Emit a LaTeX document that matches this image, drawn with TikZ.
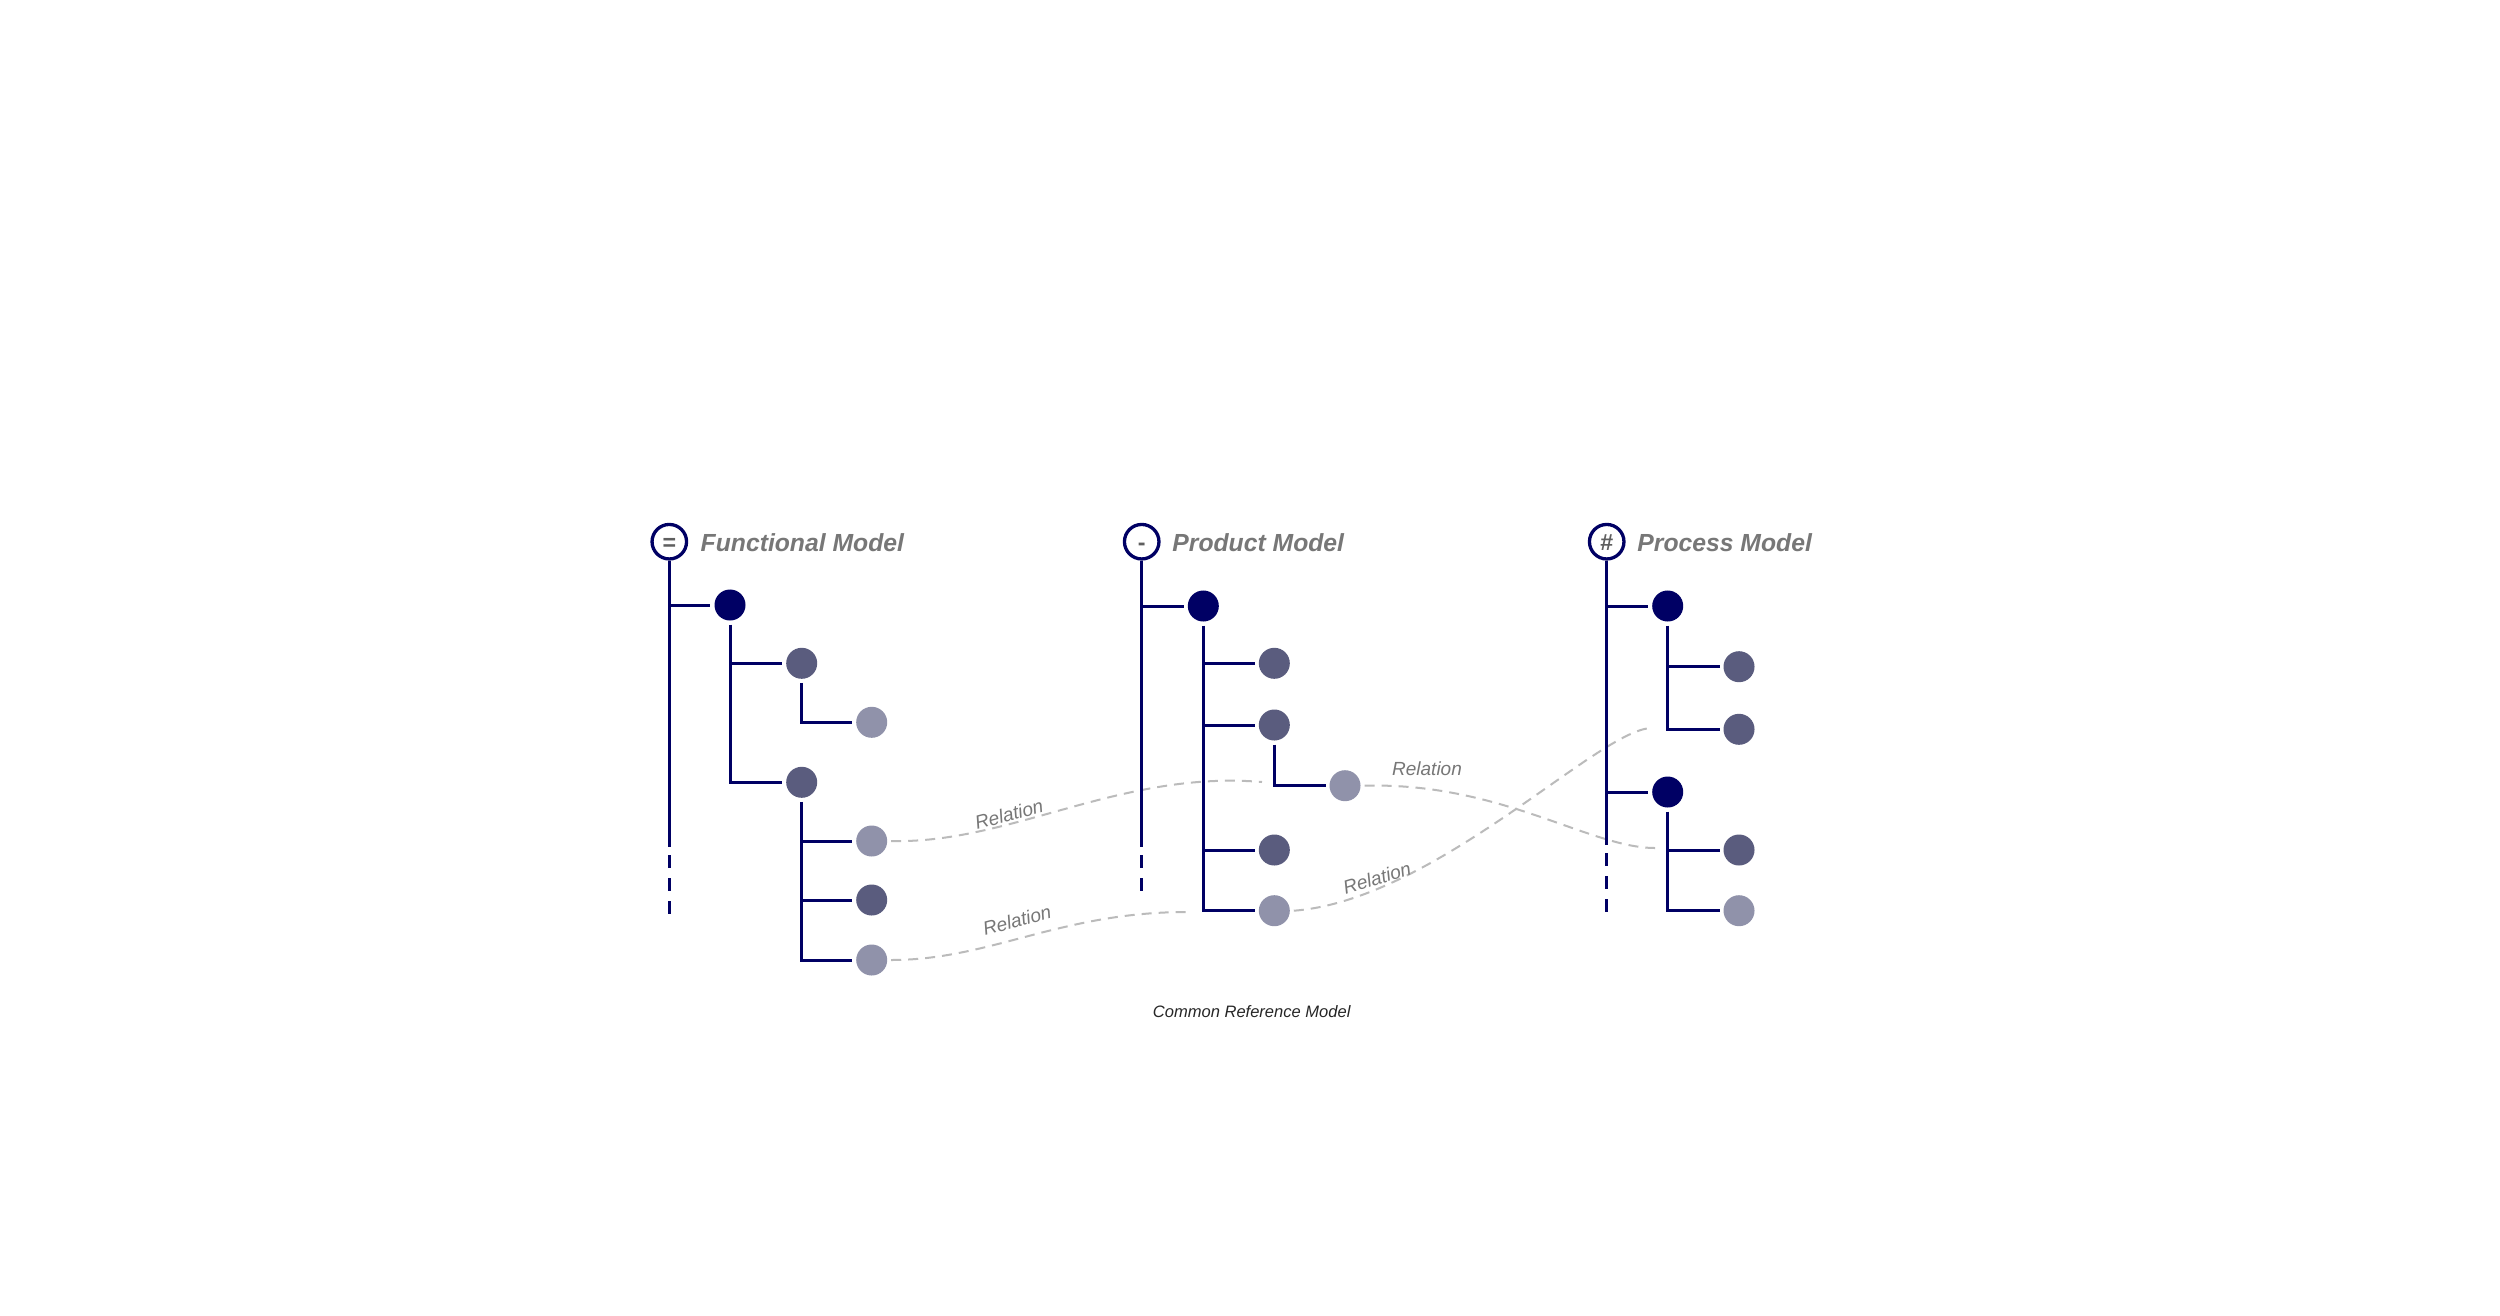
\documentclass[tikz,border=0pt]{standalone}
\usepackage{fontspec}
\setmainfont{Liberation Sans}
\definecolor{navy}{RGB}{0,0,100}
\definecolor{midc}{RGB}{90,92,126}
\definecolor{lightc}{RGB}{144,146,170}
\definecolor{relc}{RGB}{187,187,187}
\definecolor{titlec}{RGB}{119,119,119}
\definecolor{symc}{RGB}{95,95,95}
\begin{document}
\begin{tikzpicture}[x=0.01cm,y=-0.01cm,
  tree/.style={draw=navy,line width=0.03cm},
  dot/.style={circle,inner sep=0pt,minimum size=0.31cm,outer sep=0.04cm},
  lvone/.style={dot,fill=navy},
  lvtwo/.style={dot,fill=midc},
  lvthree/.style={dot,fill=lightc},
  head/.style={circle,draw=navy,line width=0.033cm,minimum size=0.345cm,inner sep=0pt,fill=white,text=symc,text height=0.52em,text depth=0pt,font=\fontsize{6.6pt}{7pt}\selectfont\bfseries},
  mtitle/.style={anchor=base west,inner sep=0pt,text=titlec,font=\fontsize{7.03pt}{8pt}\selectfont\bfseries\itshape},
  rel/.style={draw=relc,line width=0.02cm,dash pattern=on 0.1cm off 0.07cm},
  rellabel/.style={text=titlec,inner sep=0pt,font=\fontsize{5.4pt}{6pt}\selectfont\itshape},
  trunkdash/.style={tree,dash pattern=on 0.13cm off 0.1cm,dash phase=0.15cm}
]
\fill[white] (0,0) rectangle (2500,1315);
\path[use as bounding box] (0,0) rectangle (2500,1315);

% ---------- nodes: Functional model
\node[head] (fh) at (669.3,541.7) {=};
\node[mtitle] (ft) at (700,551) {Functional Model};
\coordinate (fend) at (669.3,847);
\coordinate (fbot) at (669.3,914);
\node[lvone] (f1) at (730,605) {};
\node[lvtwo] (f2) at (801.7,663.3) {};
\node[lvthree] (f3) at (871.7,722.3) {};
\node[lvtwo] (f4) at (801.7,782.3) {};
\node[lvthree] (f5) at (871.7,841) {};
\node[lvtwo] (f6) at (871.7,900) {};
\node[lvthree] (f7) at (871.7,960) {};

% ---------- nodes: Product model
\node[head] (ph) at (1141.7,541.7) {-};
\node[mtitle] (pt) at (1171.7,551) {Product Model};
\coordinate (pend) at (1141.7,847);
\coordinate (pbot) at (1141.7,892);
\node[lvone] (p1) at (1203.3,606) {};
\node[lvtwo] (p2) at (1274.3,663.3) {};
\node[lvtwo] (p3) at (1274.3,725) {};
\node[lvthree] (p4) at (1345,785.7) {};
\node[lvtwo] (p5) at (1274.3,850) {};
\node[lvthree] (p6) at (1274.3,910.7) {};

% ---------- nodes: Process model
\node[head] (qh) at (1606.7,541.7) {\#};
\node[mtitle] (qt) at (1636.7,551) {Process Model};
\coordinate (qend) at (1606.7,845);
\coordinate (qbot) at (1606.7,913);
\node[lvone] (q1) at (1667.7,606) {};
\node[lvtwo] (q2) at (1739,666.7) {};
\node[lvtwo] (q3) at (1739,729.3) {};
\node[lvone] (q4) at (1667.7,792) {};
\node[lvtwo] (q5) at (1739,850) {};
\node[lvthree] (q6) at (1739,910.7) {};

% ---------- relations (behind the trees)
\coordinate (r1e) at (1262,782);
\coordinate (r2e) at (1655,848);
\coordinate (r3e) at (1187,912);
\coordinate (r4e) at (1652,728);
\draw[rel] (f5.east) .. controls (1010,844) and (1120,770) .. (r1e);
\draw[rel] (p4.east) .. controls (1500,782) and (1590,848) .. (r2e);
\draw[rel] (f7.east) .. controls (990,960) and (1060,912) .. (r3e);
\draw[rel] (p6.east) .. controls (1436,900) and (1600,728) .. (r4e);
\node[rellabel,rotate=15] (l1) at (1009,814) {Relation};
\node[rellabel] (l2) at (1427,769) {Relation};
\node[rellabel,rotate=15] (l3) at (1017,920) {Relation};
\node[rellabel,rotate=17] (l4) at (1377,878) {Relation};

% ---------- Functional tree
\draw[tree] (fh.south) -- (fend);
\draw[trunkdash] (fend) -- (fbot);
\draw[tree] (fh.south |- f1.west) -- (f1.west);
\draw[tree] (f1.south) |- (f4.west);
\draw[tree] (f1.south |- f2.west) -- (f2.west);
\draw[tree] (f2.south) |- (f3.west);
\draw[tree] (f4.south) |- (f7.west);
\draw[tree] (f4.south |- f5.west) -- (f5.west);
\draw[tree] (f4.south |- f6.west) -- (f6.west);

% ---------- Product tree
\draw[tree] (ph.south) -- (pend);
\draw[trunkdash] (pend) -- (pbot);
\draw[tree] (ph.south |- p1.west) -- (p1.west);
\draw[tree] (p1.south) |- (p6.west);
\draw[tree] (p1.south |- p2.west) -- (p2.west);
\draw[tree] (p1.south |- p3.west) -- (p3.west);
\draw[tree] (p1.south |- p5.west) -- (p5.west);
\draw[tree] (p3.south) |- (p4.west);

% ---------- Process tree
\draw[tree] (qh.south) -- (qend);
\draw[trunkdash] (qend) -- (qbot);
\draw[tree] (qh.south |- q1.west) -- (q1.west);
\draw[tree] (qh.south |- q4.west) -- (q4.west);
\draw[tree] (q1.south) |- (q3.west);
\draw[tree] (q1.south |- q2.west) -- (q2.west);
\draw[tree] (q4.south) |- (q6.west);
\draw[tree] (q4.south |- q5.west) -- (q5.west);

% ---------- caption
\node[text=black!85,inner sep=0pt,font=\fontsize{4.7pt}{5pt}\selectfont\itshape] (cap) at (1251.7,1011.7) {Common Reference Model};
\end{tikzpicture}
\end{document}
